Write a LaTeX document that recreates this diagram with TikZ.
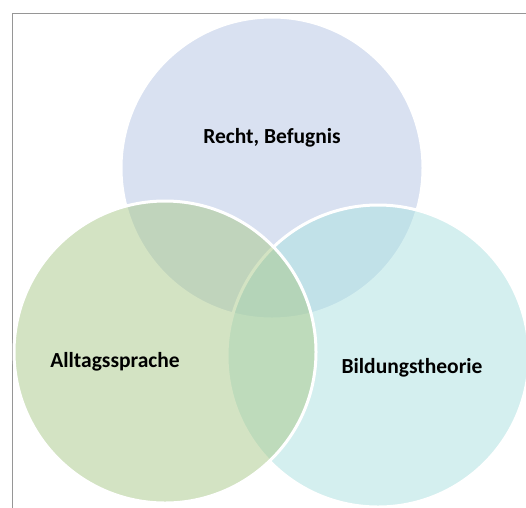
\documentclass[tikz,border=0pt]{standalone}
\usepackage{fontspec}
\setmainfont{Carlito}
\definecolor{topc}{RGB}{181,197,229}
\definecolor{leftc}{RGB}{169,201,137}
\definecolor{rightc}{RGB}{171,225,225}
\definecolor{framec}{RGB}{150,150,150}
\tikzset{
  venn/.style={circle, minimum size=302pt, inner sep=0pt, draw=white, line width=3pt, fill opacity=0.5},
  lbl/.style={font=\bfseries\fontsize{21.5}{25}\selectfont, text=black},
}
\begin{document}
\begin{tikzpicture}[x=1pt,y=-1pt]
\useasboundingbox (0,0) rectangle (526,507);
\fill[white] (0,0) rectangle (526,507);
\draw[framec, line width=1.5pt] (12.5,510) -- (12.5,13.5) -- (530,13.5);
\node[venn, fill=topc] (top) at (272,168) {};
\node[venn, fill=rightc] (right) at (378,356) {};
\node[venn, fill=leftc] (left) at (165,352) {};
\node[lbl] (tl) at (272,138) {Recht, Befugnis};
\node[lbl] (ll) at (115,362) {Alltagssprache};
\node[lbl] (rl) at (412,368) {Bildungstheorie};
\end{tikzpicture}
\end{document}
